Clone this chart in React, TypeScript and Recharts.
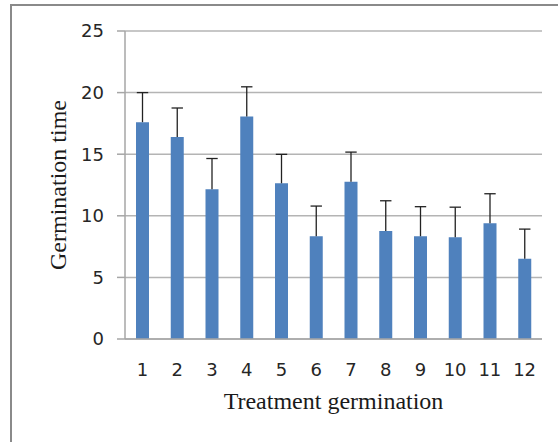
import { Bar, BarChart, CartesianGrid, XAxis, YAxis } from "recharts";

const treatments = ["1", "2", "3", "4", "5", "6", "7", "8", "9", "10", "11", "12"];
const germinationTime = [17.6, 16.4, 12.15, 18.07, 12.64, 8.34, 12.77, 8.77, 8.34, 8.25, 9.39, 6.52];
const errorUp = [2.4, 2.35, 2.5, 2.4, 2.35, 2.45, 2.4, 2.45, 2.4, 2.45, 2.4, 2.4];
const yTicks = [0, 5, 10, 15, 20, 25];

const data = treatments.map((label, i) => ({
  label,
  time: germinationTime[i],
  err: errorUp[i],
}));

// draws only the upper whisker + cap for the stacked error segment
function ErrorWhisker(props: any) {
  const { x, y, width, height } = props;
  if (height == null || height <= 0) return null;
  const cx = x + width / 2;
  return (
    <g>
      <line x1={cx} y1={y} x2={cx} y2={y + height} stroke="#222" strokeWidth={1.3} />
      <line x1={cx - 5.7} y1={y} x2={cx + 5.7} y2={y} stroke="#222" strokeWidth={1.3} />
    </g>
  );
}

const tickFont = { fontFamily: "DejaVu Sans", fontSize: 18, fill: "#262626" };
const labelFont = { fontFamily: "Liberation Serif", fontSize: 24, fill: "#1a1a1a" };

export default function App() {
  return (
    <div style={{ position: "absolute", left: 0, top: 0, width: 558, height: 442, background: "#fff" }}>
      <div
        style={{
          position: "absolute",
          left: 10,
          top: 4,
          right: 0,
          bottom: 0,
          borderLeft: "2px solid #8a8a8a",
          borderTop: "2px solid #8a8a8a",
        }}
      />
      <div style={{ position: "absolute", left: 0, top: 0 }}>
        <BarChart
          width={558}
          height={442}
          data={data}
          margin={{ top: 31, right: 16, bottom: 0, left: 0 }}
          barSize={13}
        >
          <CartesianGrid horizontal vertical={false} stroke="#b4b4b4" strokeWidth={1.5} />
          <XAxis
            dataKey="label"
            height={103}
            tickLine={false}
            tickSize={0}
            tickMargin={24}
            axisLine={{ stroke: "#a6a6a6", strokeWidth: 1.5 }}
            tick={tickFont}
            interval={0}
            label={{ value: "Treatment germination", position: "insideBottom", offset: 33, style: labelFont }}
          />
          <YAxis
            width={125}
            domain={[0, 25]}
            ticks={yTicks}
            tickSize={8}
            tickMargin={13}
            tickLine={{ stroke: "#a6a6a6", strokeWidth: 1.5 }}
            axisLine={{ stroke: "#a6a6a6", strokeWidth: 1.5 }}
            tick={tickFont}
            label={{ value: "Germination time", angle: -90, position: "center", dx: -5, style: labelFont }}
          />
          <Bar dataKey="time" stackId="a" fill="#4f81bd" isAnimationActive={false} />
          <Bar dataKey="err" stackId="a" shape={ErrorWhisker} isAnimationActive={false} />
        </BarChart>
      </div>
    </div>
  );
}
